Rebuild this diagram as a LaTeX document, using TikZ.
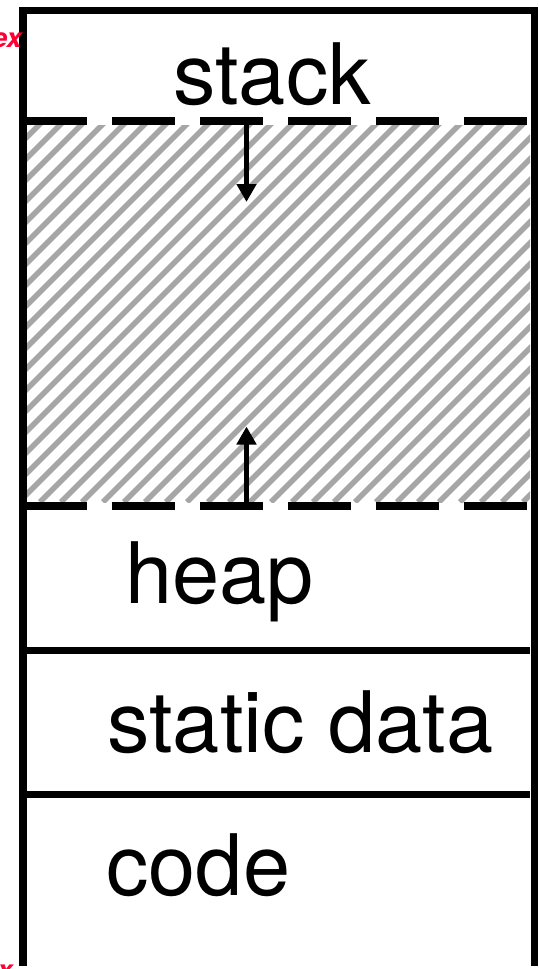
\documentclass[tikz,border=0pt]{standalone}
\usepackage{fontspec}
\setmainfont{TeX Gyre Heros}
\usetikzlibrary{arrows.meta,positioning}
\definecolor{hatchgray}{RGB}{166,166,166}
\definecolor{notered}{RGB}{255,0,51}

\begin{document}
\begin{tikzpicture}[x=0.5pt,y=-0.5pt,
wall/.style={line width=3.85pt},
gapline/.style={line width=3.85pt,dash pattern=on 31.5pt off 12.5pt},
growarrow/.style={line width=2.75pt,-{Triangle[length=9pt,width=9.5pt]}},
hatch/.style={hatchgray,line width=2.8pt},
lbl/.style={inner sep=0pt,anchor=base west,font=\fontsize{42.4}{50}\selectfont},
note/.style={inner sep=0pt,anchor=base east,text=notered,font=\fontsize{13.5}{15}\selectfont\bfseries\itshape}]
\useasboundingbox (0,0) rectangle (539,969);
% free space between stack and heap
\begin{scope}
\clip (27,125) rectangle (530,502);
\foreach \x in {-380,-359,...,540}
\draw[hatch] (\x,502) -- ++(380,-380);
\end{scope}
\draw[wall] (23,966) -- (23,10.5) -- (534.5,10.5) -- (534.5,966);
\draw[gapline] (24,121)--(530,121) (24,506)--(530,506);
\draw[wall] (27,650.5)--(530,650.5) (27,794.5)--(530,794.5);
\coordinate (stackedge) at (246.5,121);
\coordinate (stackgrow) at (246.5,202);
\coordinate (heapedge) at (246.5,506);
\coordinate (heapgrow) at (246.5,426.5);
\draw[growarrow] (stackedge) -- (stackgrow);
\draw[growarrow] (heapedge) -- (heapgrow);
\node[lbl] (stacklbl) at (173,104) {stack};
\node[lbl] (heaplbl) at (125,603) {heap};
\node[lbl] (datalbl) at (107,752) {static data};
\node[lbl] (codelbl) at (106,895) {code};
\node[note] (topnote) at (22,47) {ex};
\node[note] (botnote) at (13,979) {x};
\end{tikzpicture}
\end{document}
